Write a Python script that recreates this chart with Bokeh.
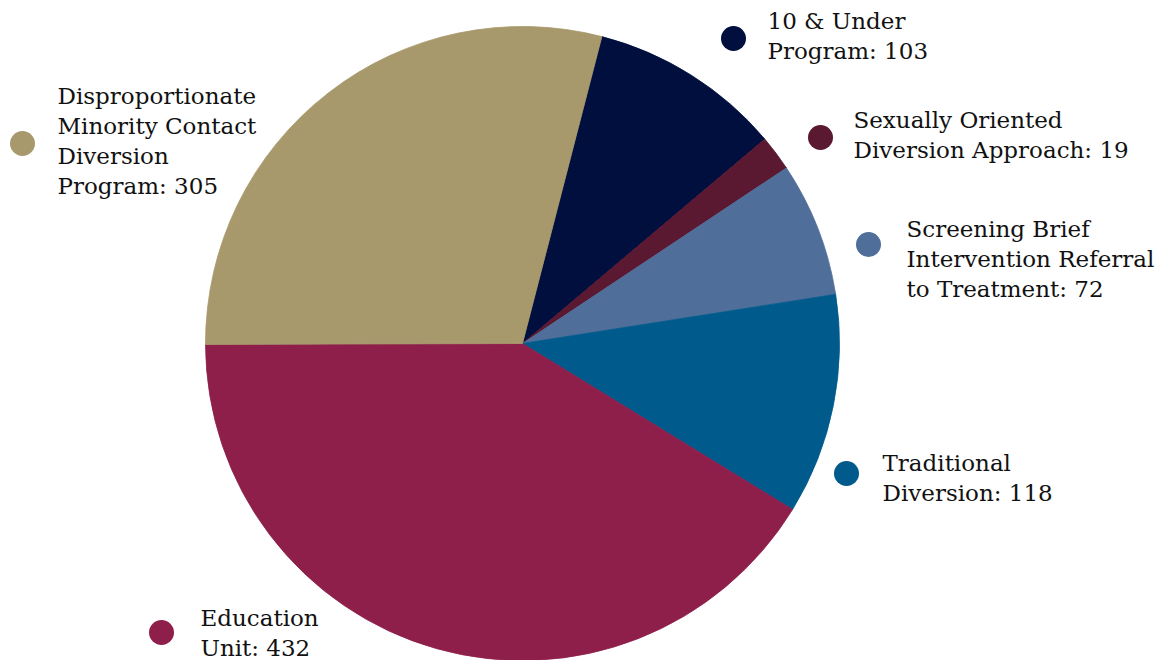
import math
from bokeh.plotting import figure
from bokeh.models import Range1d, ColumnDataSource
from bokeh.core.properties import value
from bokeh.embed import file_html
from bokeh.resources import INLINE

# ---- data ----
categories = [
    "10 & Under Program",
    "Sexually Oriented Diversion Approach",
    "Screening Brief Intervention Referral to Treatment",
    "Traditional Diversion",
    "Education Unit",
    "Disproportionate Minority Contact Diversion Program",
]
counts = [103, 19, 72, 118, 432, 305]
label_wraps = [
    ["10 & Under", "Program:"],
    ["Sexually Oriented", "Diversion Approach:"],
    ["Screening Brief", "Intervention Referral", "to Treatment:"],
    ["Traditional", "Diversion:"],
    ["Education", "Unit:"],
    ["Disproportionate", "Minority Contact", "Diversion", "Program:"],
]
colors = ["#000F3E", "#5A1831", "#4F6E99", "#005A8B", "#8E1F4B", "#A8996C"]

# ---- layout (screen-like coordinates, y measured from top of picture) ----
W, H = 1162, 660
cx, cy, R = 522, 343, 317
start_deg = 75.5  # first slice boundary, counter-clockwise from +x
dot_pos = [(733, 38), (820, 137), (868, 244), (846, 473), (161, 632), (22, 143)]
text_pos = [(767, 20), (853, 119), (906, 228), (882, 462), (200, 617), (57, 95)]
line_step = 30

def fy(y):
    return H - y

p = figure(width=W, height=H, output_backend="svg", toolbar_location=None,
           x_range=Range1d(0, W), y_range=Range1d(0, H),
           x_axis_location=None, y_axis_location=None, min_border=0,
           background_fill_color="white", border_fill_color="white")
p.grid.visible = False
p.outline_line_color = None

total = float(sum(counts))
starts, ends = [], []
cum = 0.0
for c in counts:
    a0 = math.radians(start_deg) - 2 * math.pi * cum / total
    cum += c
    a1 = math.radians(start_deg) - 2 * math.pi * cum / total
    starts.append(a0)
    ends.append(a1)

src = ColumnDataSource(dict(x=[cx] * len(counts), y=[fy(cy)] * len(counts),
                            start=starts, end=ends, color=colors, cat=categories))
p.wedge(x="x", y="y", radius=R, start_angle="start", end_angle="end",
        direction="clock", fill_color="color", line_color="color", line_width=0.8,
        source=src)

# legend dots
p.scatter(x=[d[0] for d in dot_pos], y=[fy(d[1]) for d in dot_pos], size=25,
          marker="circle", fill_color=colors, line_color=None)

# labels
tx, ty, tt = [], [], []
for (x0, y0), wrap, c in zip(text_pos, label_wraps, counts):
    lines = wrap[:-1] + [f"{wrap[-1]} {c}"]
    for i, ln in enumerate(lines):
        tx.append(x0)
        ty.append(fy(y0 + i * line_step))
        tt.append(ln)
p.text(x=tx, y=ty, text=tt, text_font=value("DejaVu Serif"), text_font_size="23px",
       text_color="#111111", text_baseline="middle", text_align="left")

open("out.html", "w").write(file_html(p, INLINE))
